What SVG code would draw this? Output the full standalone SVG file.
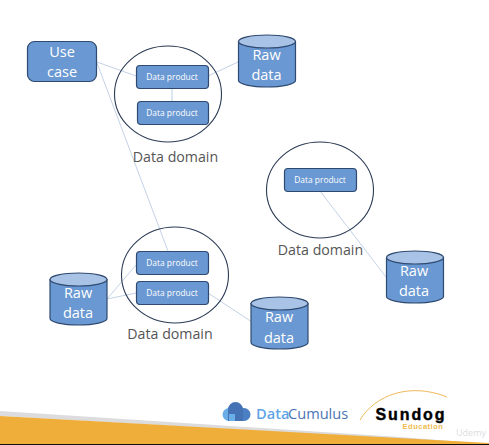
<svg xmlns="http://www.w3.org/2000/svg" width="489" height="445" viewBox="0 0 489 445">
<style>
text{font-family:"Open Sans","Noto Sans",sans-serif;text-anchor:middle}
.box{fill:#6a98d2;stroke:#2f4a70;stroke-width:1.2}
.cyl{fill:#6a98d2;stroke:#2f4a70;stroke-width:1.2}
.cap{fill:#a9c3e6;stroke:#2f4a70;stroke-width:1.2}
.ring{fill:none;stroke:#2b3a55;stroke-width:1.1}
.dp{font-size:8.4px;fill:#fff}
.big{font-size:14.5px;fill:#fff}
.dom{font-size:14.2px;fill:#555}
.link{stroke:#b4c5e0;stroke-width:.8;fill:none}
</style>
<defs>
<g id="can"><path class="cyl" d="M0 6.500V45.500C0 49 12.500 52 28.500 52S57 49 57 45.500V6.500Z"/><ellipse class="cap" cx="28.500" cy="6.500" rx="28.500" ry="6.500"/></g>
</defs>
<rect width="489" height="445" fill="#fff"/>
<g id="connectors">
<path class="link" d="M97 62L136 76"/>
<path class="link" d="M97 63L168 251"/>
<path class="link" d="M208 76L238 62"/>
<path class="link" d="M172 88V101" style="stroke:#b5d3e2;stroke-width:1"/>
<path class="link" d="M107 299L136 265"/>
<path class="link" d="M107 299L136 293"/>
<path class="link" d="M208 293L252 322"/>
<path class="link" d="M320 191L386 277"/>
</g>
<g id="domain-1"><ellipse class="ring" cx="168" cy="94" rx="53.500" ry="48"/><text class="dom" x="175.500" y="162">Data domain</text></g>
<g id="domain-2"><ellipse class="ring" cx="175" cy="275" rx="53.500" ry="48"/><text class="dom" x="170" y="339">Data domain</text></g>
<g id="domain-3"><ellipse class="ring" cx="320" cy="190" rx="53.500" ry="48"/><text class="dom" x="320.500" y="255">Data domain</text></g>
<g id="use-case"><rect class="box" x="27.500" y="41.500" width="69" height="40" rx="7"/><text class="big" x="62" y="57">Use</text><text class="big" x="62" y="77">case</text></g>
<g id="product-1"><rect class="box" x="136.500" y="65.500" width="72" height="23" rx="3.500"/><text class="dp" x="172" y="80">Data product</text></g>
<g id="product-2"><rect class="box" x="137.500" y="101.500" width="71" height="23" rx="3.500"/><text class="dp" x="172" y="116">Data product</text></g>
<g id="product-3"><rect class="box" x="136.500" y="251.500" width="72" height="23" rx="3.500"/><text class="dp" x="172" y="266">Data product</text></g>
<g id="product-4"><rect class="box" x="136.500" y="281.500" width="72" height="23" rx="3.500"/><text class="dp" x="172" y="296">Data product</text></g>
<g id="product-5"><rect class="box" x="284.500" y="168.500" width="72" height="23" rx="3.500"/><text class="dp" x="320" y="183">Data product</text></g>
<g id="raw-1"><use href="#can" x="238.500" y="35"/><text class="big" x="266.500" y="60">Raw</text><text class="big" x="266.500" y="80">data</text></g>
<g id="raw-2"><use href="#can" x="50" y="273"/><text class="big" x="78" y="298">Raw</text><text class="big" x="78" y="318">data</text></g>
<g id="raw-3"><use href="#can" x="251" y="297"/><text class="big" x="279" y="322">Raw</text><text class="big" x="279" y="343">data</text></g>
<g id="raw-4"><use href="#can" x="386.500" y="251"/><text class="big" x="414" y="276">Raw</text><text class="big" x="414" y="296">data</text></g>
<g id="footer">
<polygon points="0,411 0,416 489,444 400,437" fill="#dcdcde"/>
<polygon points="0,416 489,443 489,444 0,444" fill="#efae3a"/>
<rect y="444" width="489" height="1" fill="#111"/>
<circle cx="229" cy="414.500" r="6.500" fill="#6aaee8"/>
<path d="M244 408a6.500 6.500 0 0 1 0 13H238V408Z" fill="#4b7fc4"/>
<path d="M228 421V409.500a7.500 7.500 0 0 1 15 0V421Z" fill="#4472b5"/>
<rect x="229" y="414" width="6" height="7" fill="#6aaee8"/>
<text x="256" y="419" style="font-size:14.600px;font-weight:600;fill:#5fa5e6;text-anchor:start">Data</text>
<text x="288" y="419" style="font-size:14.600px;fill:#4a74b5;text-anchor:start">Cumulus</text>
<path d="M360 420C375 395 410 382 447 397" fill="none" stroke="#efb85a" stroke-width="1"/>
<text x="411" y="419.500" style="font-family:'Liberation Sans',sans-serif;font-size:16px;font-weight:700;fill:#000;stroke:#000;stroke-width:.4px;letter-spacing:1.900px">Sundog</text>
<text x="423" y="429" style="font-family:'Liberation Sans',sans-serif;font-size:7.500px;font-weight:700;fill:#f0bb4c;letter-spacing:.5px">Education</text>
<text x="471" y="436" style="font-size:9px;fill:#dcdcde">Udemy</text>
</g>
</svg>
